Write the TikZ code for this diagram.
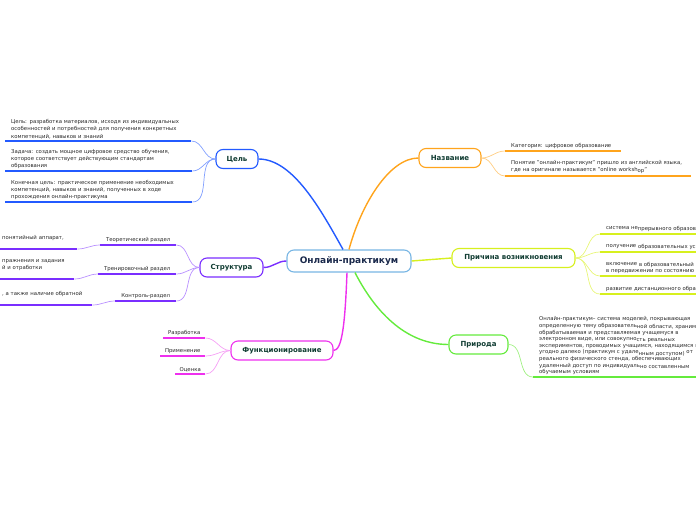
\documentclass[tikz,border=0pt]{standalone}
\usepackage{fontspec}
\setmainfont{DejaVu Sans}
\usepackage{tikz}
\usetikzlibrary{positioning}
\definecolor{ctrblue}{RGB}{120,182,228}
\definecolor{celblue}{RGB}{35,90,255}
\definecolor{celthin}{RGB}{130,160,255}
\definecolor{nazorange}{RGB}{255,164,28}
\definecolor{nazthin}{RGB}{255,205,130}
\definecolor{prichyellow}{RGB}{215,240,30}
\definecolor{prichthin}{RGB}{232,246,120}
\definecolor{prirgreen}{RGB}{100,235,60}
\definecolor{prirthin}{RGB}{160,240,130}
\definecolor{strpurple}{RGB}{122,46,255}
\definecolor{strthin}{RGB}{185,145,255}
\definecolor{funcmagenta}{RGB}{238,48,238}
\definecolor{functhin}{RGB}{245,160,245}
\definecolor{labgreen}{RGB}{16,60,50}
\definecolor{titlecol}{RGB}{27,42,76}
\definecolor{leaftext}{RGB}{40,40,40}
\newcommand\leaffont{\fontsize{5.35}{7.3}\selectfont}
\newcommand\topicfont{\fontsize{7}{8}\selectfont\bfseries}
\newcommand\titlefont{\fontsize{9}{10}\selectfont\bfseries}
\newcommand\dn[1]{\raisebox{-1.3pt}{#1}}

\begin{document}
\begin{tikzpicture}[x=1pt, y=-1pt,
  every node/.style={font=\leaffont, text=leaftext},
  topic/.style={draw=#1, line width=1.1pt, rounded corners=7pt, fill=white,
                minimum height=19pt, font=\topicfont, text=labgreen},
  leaf/.style={anchor=south west, align=left, inner xsep=6pt, inner ysep=2pt},
  sub/.style={anchor=south west, inner xsep=0pt, inner ysep=2pt},
  uline/.style={line width=1.8pt, #1},
  main/.style={line width=1.4pt, #1},
  thin/.style={line width=0.7pt, #1}
]
\useasboundingbox (0,0) rectangle (696,520);
\clip (0,0) rectangle (696,520);

\node[topic=ctrblue, minimum width=124pt, minimum height=22pt, font=\titlefont, text=titlecol] (ctr) at (349,261) {Онлайн-практикум};
\node[topic=celblue, minimum width=42pt]     (cel)   at (237,159)     {Цель};
\node[topic=nazorange, minimum width=62pt]   (naz)   at (450,158)     {Название};
\node[topic=prichyellow, minimum width=123pt](prich) at (513.5,258)   {Причина возникновения};
\node[topic=prirgreen, minimum width=59pt]   (prir)  at (478.5,344.5) {Природа};
\node[topic=strpurple, minimum width=63pt]   (str)   at (231.5,267.5) {Структура};
\node[topic=funcmagenta, minimum width=102pt](func)  at (282,350.5)   {Функционирование};

\draw[main=celblue] ([xshift=-6pt]ctr.north) .. controls (321,210) and (293,159) .. (cel.east);
\draw[main=nazorange] ([xshift=0pt]ctr.north) .. controls (361,205) and (389,158) .. (naz.west);
\draw[main=prichyellow] (ctr.east) -- (prich.west);
\draw[main=prirgreen] ([xshift=6pt]ctr.south) .. controls (370,302) and (400,344.5) .. (prir.west);
\draw[main=strpurple] (ctr.west) to[out=180,in=0] (str.east);
\draw[main=funcmagenta] ([xshift=-2pt]ctr.south) .. controls (345,325) and (342,350.5) .. (func.east);

\node[leaf, text width=174pt] (cel1) at (5,141) {Цель: разработка материалов, исходя из индивидуальных\\особенностей и потребностей для получения конкретных\\компетенций, навыков и знаний};
\node[leaf, text width=175pt] (cel2) at (5,171) {Задача: создать мощное цифровое средство обучения,\\которое соответствует действующим стандартам\\образования};
\node[leaf, text width=175pt] (cel3) at (5,202) {Конечная цель: практическое применение необходимых\\компетенций, навыков и знаний, полученных в ходе\\прохождения онлайн-практикума};

\node[leaf, text width=104pt] (naz1) at (505,151) {Категория: цифровое образование};
\node[leaf, text width=174pt] (naz2) at (505,176) {Понятие "онлайн-практикум" пришло из английской языка,\\где на оригинале называется "online worksh\dn{op}"};

\node[leaf, text width=190pt] (prich1) at (600,234) {система не\dn{прерывного образова}};
\node[leaf, text width=190pt] (prich2) at (600,252) {получение \dn{образовательных ус}};
\node[leaf, text width=190pt] (prich3) at (600,276) {включение \dn{в образовательный}\\в передвижении по состоянию};
\node[leaf, text width=190pt] (prich4) at (600,294) {развитие дистанционного обра};

\node[leaf, text width=190pt, font=\fontsize{5.35}{6.6}\selectfont] (prir1) at (533,377) {Онлайн-практикум– система моделей, покрывающая\\определенную тему образователь\dn{ной области, хранима}\\обрабатываемая и представляемая учащемуся в\\электронном виде, или совокупно\dn{сть реальных}\\экспериментов, проводимых учащимся, находящимся на\\угодно далеко (практикум с удале\dn{нным доступом)} от\\реального физического стенда, обеспечивающих\\удаленный доступ по индивидуаль\dn{но составленным}\\обучаемым условиям};

\node[sub, minimum width=76pt] (str1) at (100,245) {Теоретический раздел};
\node[sub, minimum width=78pt] (str2) at (98,274)  {Тренировочный раздел};
\node[sub, minimum width=61pt] (str3) at (115,301) {Контроль-раздел};
\node[leaf, text width=69pt] (str1a) at (-4,249) {понятийный аппарат,\\\mbox{}};
\node[leaf, text width=66pt] (str2a) at (-4,279) {пражнения и задания\\й и отработки\\\mbox{}};
\node[leaf, text width=84pt] (str3a) at (-4,305) {, а также наличие обратной\\\mbox{}};

\node[sub, minimum width=42pt] (func1) at (163,338) {Разработка};
\node[sub, minimum width=45pt] (func2) at (160,356) {Применение};
\node[sub, minimum width=30pt] (func3) at (175,374) {Оценка};

\foreach \n/\c in {cel1/celblue, cel2/celblue, cel3/celblue, naz1/nazorange, naz2/nazorange,
    prich1/prichyellow, prich2/prichyellow, prich3/prichyellow, prich4/prichyellow, prir1/prirgreen,
    str1/strpurple, str2/strpurple, str3/strpurple, str1a/strpurple, str2a/strpurple, str3a/strpurple,
    func1/funcmagenta, func2/funcmagenta, func3/funcmagenta}
  \draw[uline=\c] (\n.south west) -- (\n.south east);

\foreach \to in {cel1, cel2, cel3}
  \draw[thin=celthin] (cel.west) to[out=180,in=0] (\to.south east);
\foreach \to in {naz1, naz2}
  \draw[thin=nazthin] (naz.east) to[out=0,in=180] (\to.south west);
\foreach \to in {prich1, prich2, prich3, prich4}
  \draw[thin=prichthin] (prich.east) to[out=0,in=180] (\to.south west);
\draw[thin=prirthin] (prir.east) to[out=0,in=180] (prir1.south west);
\foreach \to in {str1, str2, str3}
  \draw[thin=strthin] (str.west) to[out=180,in=0] (\to.south east);
\foreach \from/\to in {str1/str1a, str2/str2a, str3/str3a}
  \draw[thin=strthin] (\from.south west) to[out=180,in=0] (\to.south east);
\foreach \to in {func1, func2, func3}
  \draw[thin=functhin] (func.west) to[out=180,in=0] (\to.south east);
\end{tikzpicture}
\end{document}
